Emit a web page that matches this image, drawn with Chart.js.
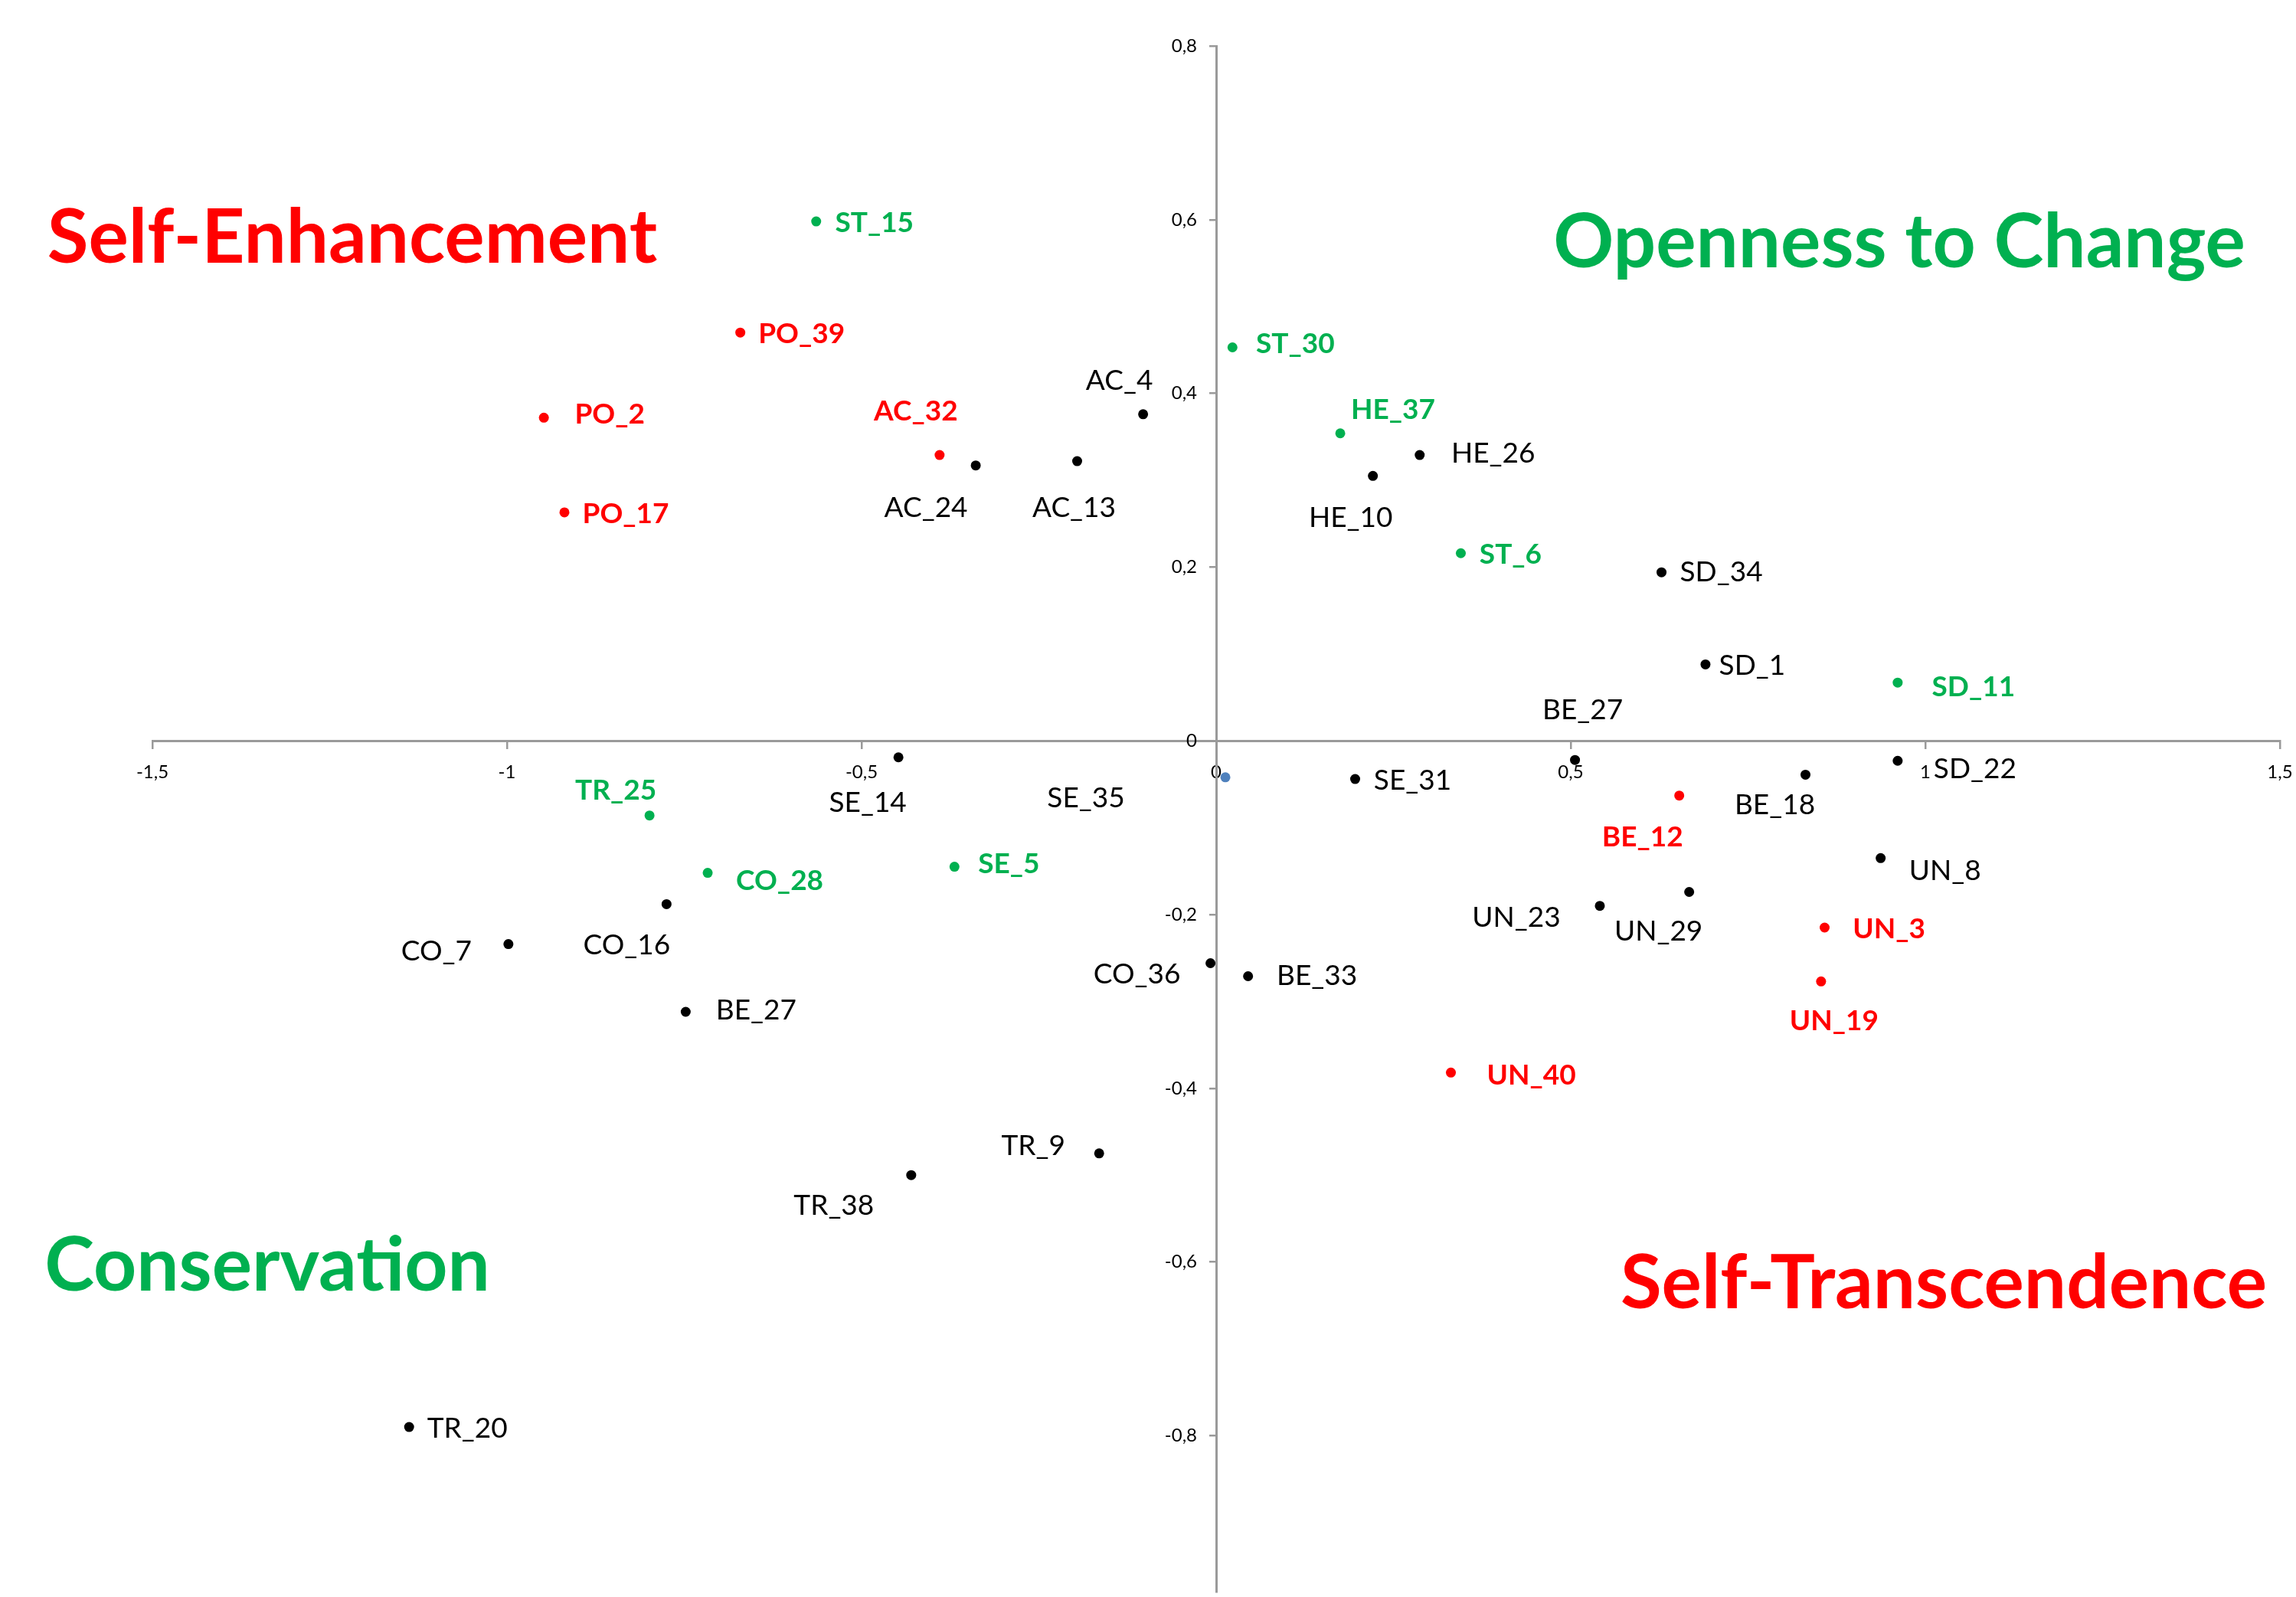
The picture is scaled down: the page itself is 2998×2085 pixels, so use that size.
<!DOCTYPE html>
<html>
<head>
<meta charset="utf-8">
<script src="https://cdn.jsdelivr.net/npm/chart.js@4.4.1/dist/chart.umd.min.js"></script>
<style>
  html, body { margin: 0; padding: 0; background: #fff; overflow: hidden; }
  #wrap { width: 2998px; height: 2085px; position: relative; }
</style>
</head>
<body>
<div id="wrap"><canvas id="grafico"></canvas></div>
<script>
// itens em preto
var pretoNomes = ['AC_4', 'AC_24', 'AC_13', 'HE_26', 'HE_10', 'SD_34', 'SD_1', 'BE_27', 'SD_22', 'BE_18',
  'UN_8', 'UN_29', 'UN_23', 'SE_31', 'SE_14', 'CO_16', 'CO_7', 'BE_27', 'CO_36', 'BE_33', 'TR_9', 'TR_38', 'TR_20'];
var pretoX = [-0.103, -0.339, -0.196, 0.287, 0.221, 0.628, 0.690, 0.506, 0.961, 0.831,
  0.937, 0.667, 0.541, 0.196, -0.448, -0.775, -0.998, -0.748, -0.008, 0.045, -0.165, -0.430, -1.138];
var pretoY = [0.376, 0.317, 0.322, 0.329, 0.305, 0.194, 0.088, -0.022, -0.023, -0.039,
  -0.135, -0.174, -0.190, -0.044, -0.019, -0.188, -0.234, -0.312, -0.256, -0.271, -0.475, -0.500, -0.790];

// itens em verde
var verdeNomes = ['ST_15', 'ST_30', 'HE_37', 'ST_6', 'SD_11', 'TR_25', 'CO_28', 'SE_5'];
var verdeX = [-0.564, 0.023, 0.175, 0.345, 0.961, -0.799, -0.717, -0.369];
var verdeY = [0.598, 0.453, 0.354, 0.216, 0.067, -0.086, -0.152, -0.145];

// itens em vermelho
var vermelhoNomes = ['PO_39', 'PO_2', 'PO_17', 'AC_32', 'BE_12', 'UN_3', 'UN_19', 'UN_40'];
var vermelhoX = [-0.671, -0.948, -0.919, -0.390, 0.653, 0.858, 0.853, 0.331];
var vermelhoY = [0.470, 0.372, 0.263, 0.329, -0.063, -0.215, -0.277, -0.382];

// ponto azul perto da origem
var azulNomes = ['SE_35'];
var azulX = [0.013];
var azulY = [-0.042];

var ticksX = [-1.5, -1, -0.5, 0, 0.5, 1, 1.5];
var ticksY = [-0.8, -0.6, -0.4, -0.2, 0, 0.2, 0.4, 0.6, 0.8];

var quadrantes = ['Self-Enhancement', 'Openness to Change', 'Conservation', 'Self-Transcendence'];

// deslocamento do rotulo em relacao ao ponto (px)
var despPreto = [[-31, -44], [-65, 55], [-4, 61], [96, -2], [-29, 55], [78, 0], [61, 2], [10, -65], [101, 11], [-40, 40],
  [84, 17], [-40, 52], [-109, 15], [75, 2], [-40, 59], [-52, 54], [-94, 10], [92, -2], [-96, 15], [90, 0], [-86, -10], [-101, 40], [76, 2]];
var despVerde = [[76, 2], [82, -4], [69, -31], [65, 2], [99, 6], [-44, -33], [94, 11], [71, -4]];
var despVermelho = [[80, 2], [86, -4], [80, 2], [-31, -57], [-48, 54], [84, 2], [17, 52], [105, 4]];
var despAzul = [[-182, 27]];

var PRETO = '#000000';
var VERDE = '#00B050';
var VERMELHO = '#FF0000';
var AZUL = '#4F81BD';
var CINZA = '#9a9a9a';

function juntar(xs, ys) {
  var pts = [];
  for (var i = 0; i < xs.length; i++) {
    pts.push({ x: xs[i], y: ys[i] });
  }
  return pts;
}

function virgula(v) {
  return String(Math.round(v * 10) / 10).replace('.', ',');
}

var rotulosPlugin = {
  id: 'rotulos',
  afterDatasetsDraw: function (chart) {
    var ctx = chart.ctx;
    ctx.save();

    // rotulos do eixo y (ficam a esquerda do eixo, longe das marcas)
    var ey = chart.scales.y;
    var x0 = chart.scales.x.getPixelForValue(0);
    ctx.fillStyle = '#000';
    ctx.font = '24px Lato';
    ctx.textAlign = 'right';
    ctx.textBaseline = 'middle';
    ey.ticks.forEach(function (t) {
      ctx.fillText(virgula(t.value), x0 - 25, ey.getPixelForValue(t.value));
    });

    ctx.textAlign = 'center';
    chart.data.datasets.forEach(function (ds, di) {
      var meta = chart.getDatasetMeta(di);
      ctx.fillStyle = ds.corTexto;
      ctx.font = (ds.negrito ? 'bold ' : '') + '37px Lato';
      meta.data.forEach(function (el, i) {
        var d = ds.desloc[i];
        ctx.fillText(ds.nomes[i], el.x + d[0], el.y + d[1]);
      });
    });

    // titulos dos quadrantes
    var cores = [VERMELHO, VERDE, VERDE, VERMELHO];
    var centros = [[460, 343], [2480, 349], [349, 1685], [2538, 1708]];
    ctx.textBaseline = 'alphabetic';
    ctx.font = 'bold 98px Lato';
    for (var q = 0; q < quadrantes.length; q++) {
      ctx.fillStyle = cores[q];
      ctx.fillText(quadrantes[q], centros[q][0], centros[q][1]);
    }
    ctx.restore();
  }
};

function serie(nomes, xs, ys, cor, negrito, desloc, corTexto) {
  return {
    data: juntar(xs, ys),
    nomes: nomes,
    desloc: desloc,
    negrito: negrito,
    corTexto: corTexto,
    backgroundColor: cor,
    borderWidth: 0,
    pointRadius: 6.5,
    pointHoverRadius: 6.5
  };
}

var config = {
  type: 'scatter',
  data: {
    datasets: [
      serie(pretoNomes, pretoX, pretoY, PRETO, false, despPreto, PRETO),
      serie(verdeNomes, verdeX, verdeY, VERDE, true, despVerde, VERDE),
      serie(vermelhoNomes, vermelhoX, vermelhoY, VERMELHO, true, despVermelho, VERMELHO),
      serie(azulNomes, azulX, azulY, AZUL, false, despAzul, PRETO)
    ]
  },
  options: {
    responsive: true,
    maintainAspectRatio: false,
    animation: false,
    layout: { padding: { left: 199, right: 21, top: 60, bottom: 3 } },
    plugins: {
      legend: { display: false },
      tooltip: { enabled: false }
    },
    scales: {
      x: {
        type: 'linear',
        min: -1.5,
        max: 1.5,
        position: { y: 0 },
        afterBuildTicks: function (s) { s.ticks = ticksX.map(function (v) { return { value: v }; }); },
        afterFit: function (s) { s.paddingLeft = 0; s.paddingRight = 0; s.paddingTop = 0; s.paddingBottom = 0; },
        ticks: {
          color: '#000',
          font: { family: 'Lato', size: 24 },
          padding: 18,
          maxRotation: 0,
          callback: function (v) { return virgula(v); }
        },
        grid: { drawOnChartArea: false, tickLength: 9, color: CINZA, lineWidth: 2.5 },
        border: { color: CINZA, width: 3 }
      },
      y: {
        type: 'linear',
        min: -0.98,
        max: 0.8,
        position: { x: 0 },
        afterBuildTicks: function (s) { s.ticks = ticksY.map(function (v) { return { value: v }; }); },
        afterFit: function (s) { s.paddingLeft = 0; s.paddingRight = 0; s.paddingTop = 0; s.paddingBottom = 0; },
        ticks: { display: false },
        grid: { drawOnChartArea: false, tickLength: 8, color: CINZA, lineWidth: 2.5 },
        border: { color: CINZA, width: 3 }
      }
    }
  },
  plugins: [rotulosPlugin]
};

document.fonts.load('bold 98px Lato').then(function () {
  return document.fonts.load('37px Lato');
}).then(function () {
  new Chart(document.getElementById('grafico'), config);
});
</script>
</body>
</html>
